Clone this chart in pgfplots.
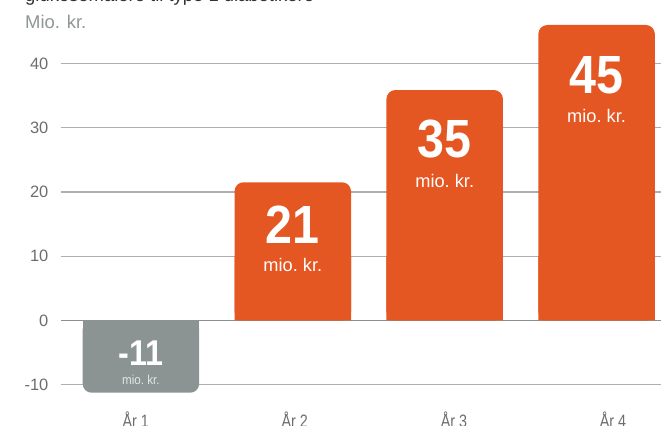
\documentclass[border=0pt]{standalone}
\usepackage{pgfplots}
\pgfplotsset{compat=1.18}
\usepackage{pgfplotstable}
\usepackage{fontspec}
\setmainfont{Liberation Sans}
\newfontfamily\condfont{Liberation Sans}[FakeStretch=0.9]
\newfontfamily\narrowfont{Liberation Sans}[FakeStretch=0.8]
\definecolor{barorange}{HTML}{E45722}
\definecolor{bargray}{HTML}{8B9393}
\definecolor{gridgray}{HTML}{ABAFAF}
\definecolor{zerogray}{HTML}{8A9090}
\definecolor{ticktext}{HTML}{6B6E6E}
\definecolor{unitgray}{HTML}{8F9696}
\definecolor{smallwhite}{HTML}{E3E6E6}

\pgfplotstableread{
x h lab sA sB
1 21.53 21 -61 -89.4
2 35.90 35 -67.3 -98
3 46.03 45 -68.3 -98.3
}\orangedata
\pgfplotstableread{
x h lab sA sB
0 -11.25 -11 27.7 8.7
}\graydata

\begin{document}
\begin{tikzpicture}
\path[use as bounding box] (0,0) rectangle (661bp,426bp);
\node[anchor=base west, inner sep=0pt, text=black!80, font=\fontsize{18.5}{18.5}\selectfont] at (25bp,424.5bp) {glukosemålere til type 1 diabetikere};
\node[anchor=base west, inner sep=0pt, text=unitgray, font=\fontsize{18.5}{18.5}\selectfont] at (25bp,397bp) {Mio. kr.};
\begin{axis}[
  at={(140.9bp,105.5bp)}, anchor=origin,
  x=151.9bp, y=6.42bp,
  xmin=-0.526, xmax=3.43, ymin=-13, ymax=48,
  axis line style={draw=none},
  tick style={draw=none},
  major tick length=0pt,
  ymajorgrids=true,
  grid style={gridgray, line width=1.2bp},
  ytick={-10,10,20,30,40},
  yticklabels={-10,10,20,30,40},
  extra y ticks={0},
  extra y tick labels={0},
  extra y tick style={grid style={zerogray, line width=1.4bp}},
  yticklabel style={anchor=east, inner sep=0pt, xshift=-12.5bp, text=ticktext, font=\fontsize{16.5}{16.5}\selectfont},
  xtick={-0.034,1.013,2.061,3.108},
  xticklabels={År 1,År 2,År 3,År 4},
  xticklabel style={anchor=base, inner sep=0pt, yshift=-23.5bp, text=ticktext, font=\narrowfont\fontsize{18}{18}\selectfont},
  clip=false,
]
% square-cornered base parts
\addplot[ybar, bar width=116.5bp, bar shift=0pt, fill=barorange, draw=none] coordinates {(1,10) (2,10) (3,10)};
\addplot[ybar, bar width=116.5bp, bar shift=0pt, fill=bargray, draw=none] coordinates {(0,-5)};
% rounded bars with values
\addplot[ybar, bar width=116.5bp, bar shift=0pt, fill=barorange, draw=none, rounded corners=9bp,
  nodes near coords, point meta=explicit symbolic,
  visualization depends on={\thisrow{sA}\as\sA},
  every node near coord/.style={anchor=base, yshift=\sA pt, inner sep=0pt, text=white, font=\condfont\bfseries\fontsize{54}{54}\selectfont}]
  table[x=x, y=h, meta=lab] {\orangedata};
\addplot[ybar, bar width=116.5bp, bar shift=0pt, fill=bargray, draw=none, rounded corners=9bp,
  nodes near coords, point meta=explicit symbolic,
  visualization depends on={\thisrow{sA}\as\sA},
  every node near coord/.style={anchor=base, yshift=\sA pt, inner sep=0pt, text=white, font=\condfont\bfseries\fontsize{36}{36}\selectfont}]
  table[x=x, y=h, meta=lab] {\graydata};
% unit labels
\addplot[draw=none, nodes near coords={mio.\ kr.},
  visualization depends on={\thisrow{sB}\as\sB},
  every node near coord/.style={anchor=base, yshift=\sB pt, inner sep=0pt, text=white, font=\fontsize{18.3}{18.3}\selectfont}]
  table[x=x, y=h] {\orangedata};
\addplot[draw=none, nodes near coords={mio.\ kr.},
  visualization depends on={\thisrow{sB}\as\sB},
  every node near coord/.style={anchor=base, yshift=\sB pt, inner sep=0pt, text=smallwhite, font=\condfont\fontsize{13}{13}\selectfont}]
  table[x=x, y=h] {\graydata};
\end{axis}
\end{tikzpicture}
\end{document}
